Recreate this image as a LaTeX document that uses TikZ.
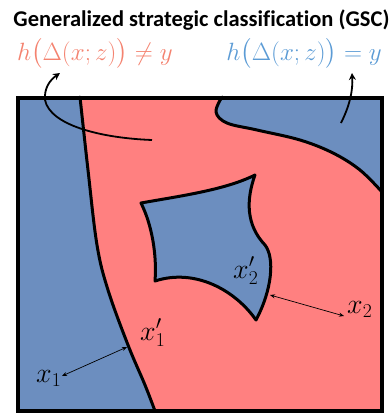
\documentclass[tikz,border=0pt]{standalone}
\usepackage{fix-cm}
\usepackage{amsmath}
\usepackage{fontspec}
\newfontfamily\titlefont[Ligatures=NoCommon]{Carlito}
\usetikzlibrary{arrows.meta}
\definecolor{regblue}{HTML}{6C8EBF}
\definecolor{regred}{HTML}{FF8080}
\definecolor{txtred}{HTML}{F4826F}
\definecolor{txtblue}{HTML}{5B9BD5}
\tikzset{
  border/.style={line width=3pt, line join=round, line cap=round},
  frame/.style={line width=4pt},
  dimarrow/.style={{Stealth[length=5pt,width=4pt]}-{Stealth[length=5pt,width=4pt]}, line width=0.7pt},
  curvearrow/.style={-{Stealth[length=7pt,width=7pt]}, line width=1.8pt},
  lbl/.style={inner sep=0pt, anchor=base west, font=\fontsize{28}{32}\selectfont},
  formula/.style={inner sep=0pt, font=\fontsize{25}{29}\selectfont},
}
\begin{document}
\begin{tikzpicture}[x=1pt,y=-1pt]
\useasboundingbox (0,0) rectangle (389,413);
% background box
\fill[regblue] (17.5,97.5) rectangle (382,411);
% red region
\fill[regred] plot[smooth,tension=0.6] coordinates {(80,97) (88,170) (97,245) (108,290) (128,345) (145,385) (155,411)}
  -- (382,411) -- (382,192)
  -- plot[smooth,tension=0.6] coordinates {(382,192) (360,170) (333,153) (300,140) (257,130) (227,123) (216,112) (222,97)}
  -- cycle;
% boundaries
\draw[border] plot[smooth,tension=0.6] coordinates {(80,97) (88,170) (97,245) (108,290) (128,345) (145,385) (155,411)};
\draw[border] plot[smooth,tension=0.6] coordinates {(382,192) (360,170) (333,153) (300,140) (257,130) (227,123) (216,112) (222,97)};
% island
\draw[border, fill=regblue] (141,203) .. controls (180,196) and (225,190) .. (255,175)
  .. controls (246,200) and (246,225) .. (265,245)
  .. controls (275,258) and (272,290) .. (256,320)
  .. controls (235,290) and (195,268) .. (155,281)
  .. controls (157,255) and (152,225) .. (141,203) -- cycle;
% frame
\draw[frame] (17.5,97.5) rectangle (382,411);
% title and formulas
\node[inner sep=0pt, anchor=base, font=\titlefont\bfseries\fontsize{22.5}{26}\selectfont] (title) at (201.5,26) {Generalized strategic classification (GSC)};
\node[formula, anchor=base west, text=txtred] (fred) at (17,60) {$h\big(\Delta(x;z)\big)\neq y$};
\node[formula, anchor=base east, text=txtblue] (fblue) at (382,60) {$h\big(\Delta(x;z)\big)= y$};
% curved arrows
\coordinate (lstart) at (152,140);
\coordinate (ltip) at (60,73);
\coordinate (rstart) at (341,123);
\coordinate (rtip) at (352,73);
\draw[curvearrow] (lstart) .. controls (100,138) and (50,125) .. (45,100) .. controls (44,88) and (50,80) .. (ltip);
\draw[curvearrow] (rstart) .. controls (350,105) and (353,90) .. (rtip);
% labels
\node[lbl] (x1) at (36,382) {$x_1$};
\node[lbl] (x1p) at (140,340) {$x'_1$};
\node[lbl] (x2p) at (233,278) {$x'_2$};
\node[lbl] (x2) at (347,313) {$x_2$};
\coordinate (x1a) at (62,376);
\coordinate (x1b) at (127,347);
\coordinate (x2a) at (270,295);
\coordinate (x2b) at (344,316);
\draw[dimarrow] (x1a) -- (x1b);
\draw[dimarrow] (x2a) -- (x2b);
\end{tikzpicture}
\end{document}
